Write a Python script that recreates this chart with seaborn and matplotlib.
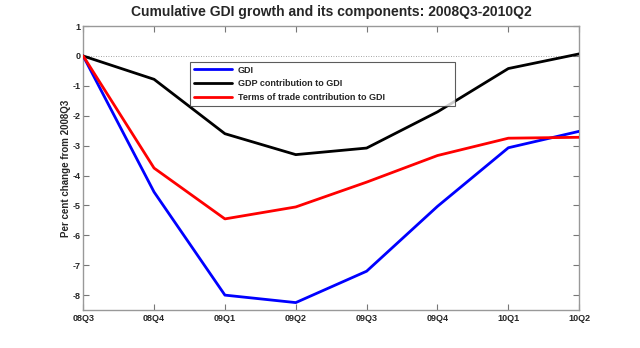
import matplotlib
matplotlib.use("Agg")
import matplotlib.pyplot as plt
import seaborn as sns
import pandas as pd

quarters = ["08Q3", "08Q4", "09Q1", "09Q2", "09Q3", "09Q4", "10Q1", "10Q2"]
gdi = [0.0, -4.55, -8.0, -8.25, -7.2, -5.03, -3.07, -2.52]
gdp_contrib = [0.0, -0.78, -2.6, -3.3, -3.08, -1.87, -0.42, 0.07]
tot_contrib = [0.0, -3.75, -5.45, -5.05, -4.22, -3.33, -2.75, -2.72]

series_names = ["GDI", "GDP contribution to GDI", "Terms of trade contribution to GDI"]
colors = ["#0000ff", "#000000", "#ff0000"]

rows = []
for name, vals in zip(series_names, [gdi, gdp_contrib, tot_contrib]):
    for i, v in enumerate(vals):
        rows.append({"pos": i, "value": v, "series": name})
df = pd.DataFrame(rows)

sns.set_style("white")
plt.rcParams["font.family"] = ["Liberation Sans", "DejaVu Sans"]
plt.rcParams["axes.unicode_minus"] = False

fig = plt.figure(figsize=(6.4, 3.48), dpi=100)
ax = fig.add_axes([0.13, 0.109, 0.775, 0.816])

ax.axhline(0, color="#888888", lw=0.6, ls=(0, (1, 2)), zorder=1)
sns.lineplot(data=df, x="pos", y="value", hue="series", hue_order=series_names,
             palette=colors, lw=2, ax=ax, sort=False, zorder=3)

ax.set_xlim(0, 7)
ax.set_ylim(-8.5, 1)
ax.set_xticks(range(len(quarters)))
ax.set_xticklabels(quarters)
ax.set_yticks(range(-8, 2))
ax.tick_params(direction="in", length=4, width=0.8, color="#777777",
               labelsize=6.5, top=True, right=True, bottom=True, left=True)
ax.tick_params(axis="x", pad=3)
ax.tick_params(axis="y", pad=2)
for lab in ax.get_xticklabels() + ax.get_yticklabels():
    lab.set_fontweight("bold")
for sp in ax.spines.values():
    sp.set_color("#999999")
    sp.set_linewidth(1)
ax.set_xlabel("")
ax.set_ylabel("Per cent change from 2008Q3", fontsize=7, fontweight="bold", labelpad=1)
ax.set_title("Cumulative GDI growth and its components: 2008Q3-2010Q2",
             fontsize=10, fontweight="bold", pad=7)

leg = ax.legend(loc="upper left", bbox_to_anchor=(0.216, 0.0, 0.534, 0.875),
                mode="expand", fontsize=6.5, frameon=True, fancybox=False,
                edgecolor="#333333", handlelength=4.2, handletextpad=0.6,
                borderpad=0.45, labelspacing=0.5, borderaxespad=0)
leg.get_frame().set_linewidth(0.8)
for t in leg.get_texts():
    t.set_fontweight("bold")
for h in leg.get_lines():
    h.set_linewidth(2)

fig.savefig("out.png", dpi=100, facecolor="white")
